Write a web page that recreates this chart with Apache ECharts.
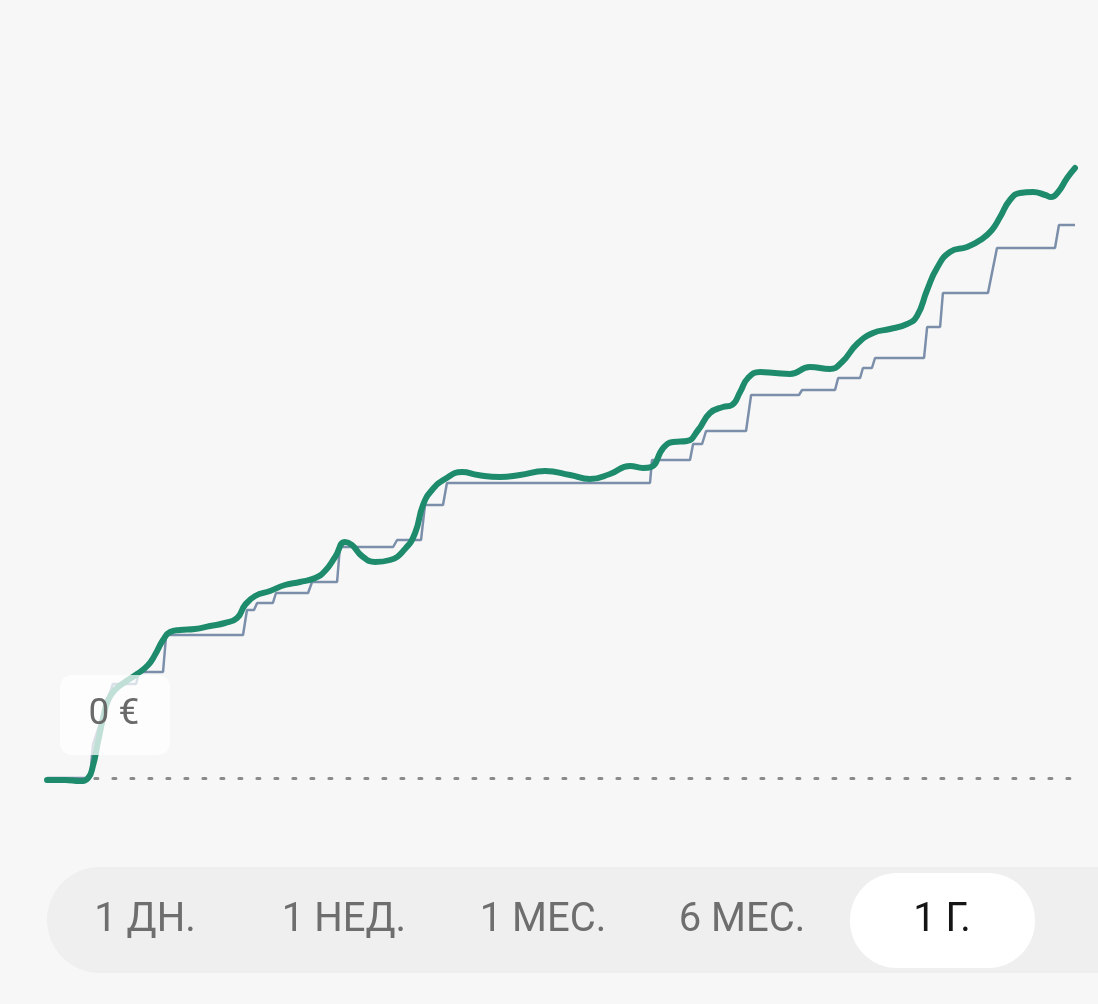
<!DOCTYPE html>
<html>
<head>
<meta charset="utf-8">
<script src="https://cdn.jsdelivr.net/npm/echarts@6/dist/echarts.min.js"></script>
<style>
  html, body { margin: 0; padding: 0; background: #f7f7f7; }
  #chart { width: 1098px; height: 1004px; }
</style>
</head>
<body>
<div id="chart"></div>
<script>
// Portfolio value (smooth green line): day of year, value
const portfolioDays = [0, 6.4, 11.7, 14.6, 16.3, 18.1, 19.9, 21.7, 24.1, 27.7, 32.0, 35.9, 38.3, 41.2, 43.7, 47.2, 52.5, 57.9, 63.2, 67.5, 70.3, 73.9, 79.2, 84.5, 89.8, 95.2, 98.7, 102.3, 105.8, 108.3, 111.8, 116.5, 121.8, 127.1, 130.7, 133.5, 136.7, 141.3, 147.4, 153.0, 160.8, 167.9, 176.8, 185.7, 192.8, 199.9, 207.0, 211.6, 214.5, 218.8, 222.3, 227.2, 231.2, 235.4, 240.0, 243.2, 246.1, 248.9, 253.2, 258.5, 263.8, 270.9, 278.0, 282.3, 287.6, 293.3, 299.3, 305.4, 308.9, 312.5, 316.0, 320.6, 326.7, 332.0, 335.5, 338.4, 341.9, 345.5, 350.1, 354.4, 356.5, 359.0, 362.2, 365.0];
const portfolioValues = [-2, -2, -3, 0, 12, 36, 60, 78, 88, 96, 104, 113, 123, 138, 146, 148, 149, 152, 155, 160, 173, 182, 187, 193, 196, 200, 207, 221, 236, 233, 222, 216, 218, 229, 245, 273, 288, 299, 306, 303, 301, 303, 307, 303, 299, 304, 312, 310, 311, 330, 336, 337, 348, 365, 371, 373, 386, 400, 406, 405, 404, 411, 409, 416, 434, 445, 449, 454, 462, 488, 510, 526, 531, 539, 548, 561, 578, 585, 586, 583, 581, 586, 600, 610];

// Invested amount (stepped blue-grey line): day of year, value
const investedDays = [0, 15.3, 16.3, 23.4, 31.6, 32.7, 41.2, 42.3, 69.6, 71.0, 73.5, 74.6, 80.2, 81.3, 92.7, 94.1, 103.0, 104.0, 122.9, 124.3, 132.8, 134.2, 140.6, 142.0, 214.1, 214.8, 228.3, 229.4, 232.6, 234.0, 248.2, 250.0, 267.0, 268.1, 279.8, 280.9, 288.7, 289.7, 292.9, 294.0, 311.4, 312.5, 317.1, 318.1, 334.1, 337.3, 357.9, 359.3, 365.0];
const investedValues = [0, 0, 33, 94, 94, 106, 106, 143, 143, 168, 168, 175, 175, 185, 185, 196, 196, 231, 231, 238, 238, 273, 273, 295, 295, 318, 318, 334, 334, 347, 347, 383, 383, 388, 388, 400, 400, 410, 410, 420, 420, 451, 451, 485, 485, 530, 530, 553, 553];

const zeroLabel = '0 €';
const periods = ['1 ДН.', '1 НЕД.', '1 МЕС.', '6 МЕС.', '1 Г.'];
const selectedPeriod = 4;

const zip = (xs, ys) => xs.map((x, i) => [x, ys[i]]);

const chart = echarts.init(document.getElementById('chart'), null, { renderer: 'canvas' });

const periodCenters = [145, 344, 543, 742, 942];
const graphics = [
  { type: 'rect', z: 100, shape: { x: 60, y: 675, width: 110, height: 80, r: 12 }, style: { fill: 'rgba(255,255,255,0.72)' } },
  { type: 'text', z: 101, x: 114, y: 715, style: { text: zeroLabel, fill: '#6a6a6a', font: '37px Roboto, "Noto Sans", sans-serif', textAlign: 'center', textVerticalAlign: 'middle' } },
  { type: 'rect', z: 100, shape: { x: 47, y: 867, width: 1120, height: 106, r: 53 }, style: { fill: '#efefef' } },
  { type: 'rect', z: 101, shape: { x: 850, y: 873, width: 185, height: 95, r: 47 }, style: { fill: '#ffffff' } }
];
periods.forEach((p, i) => {
  graphics.push({
    type: 'text', z: 102, x: periodCenters[i], y: 921,
    style: {
      text: p,
      fill: i === selectedPeriod ? '#151515' : '#6e6e6e',
      font: '40px Roboto, "Noto Sans", sans-serif',
      textAlign: 'center', textVerticalAlign: 'middle'
    }
  });
});

chart.setOption({
  backgroundColor: '#f7f7f7',
  animation: false,
  grid: { left: 47, right: 23, top: 158, bottom: 206 },
  xAxis: { type: 'value', min: 0, max: 365, show: false },
  yAxis: { type: 'value', min: -20, max: 620, show: false },
  graphic: graphics,
  series: [
    {
      type: 'line',
      data: zip(investedDays, investedValues),
      showSymbol: false,
      lineStyle: { color: '#7b8fab', width: 2.5 },
      z: 2
    },
    {
      type: 'line',
      data: zip(portfolioDays, portfolioValues),
      showSymbol: false,
      smooth: 0.5,
      lineStyle: { color: '#1e8c6c', width: 6, cap: 'round', join: 'round' },
      z: 3,
      markLine: {
        silent: true,
        symbol: 'none',
        label: { show: false },
        lineStyle: { color: '#8a8a8a', type: [3, 15], width: 3, cap: 'round' },
        data: [[{ coord: [17, 0] }, { coord: [365, 0] }]]
      }
    }
  ]
});
</script>
</body>
</html>
